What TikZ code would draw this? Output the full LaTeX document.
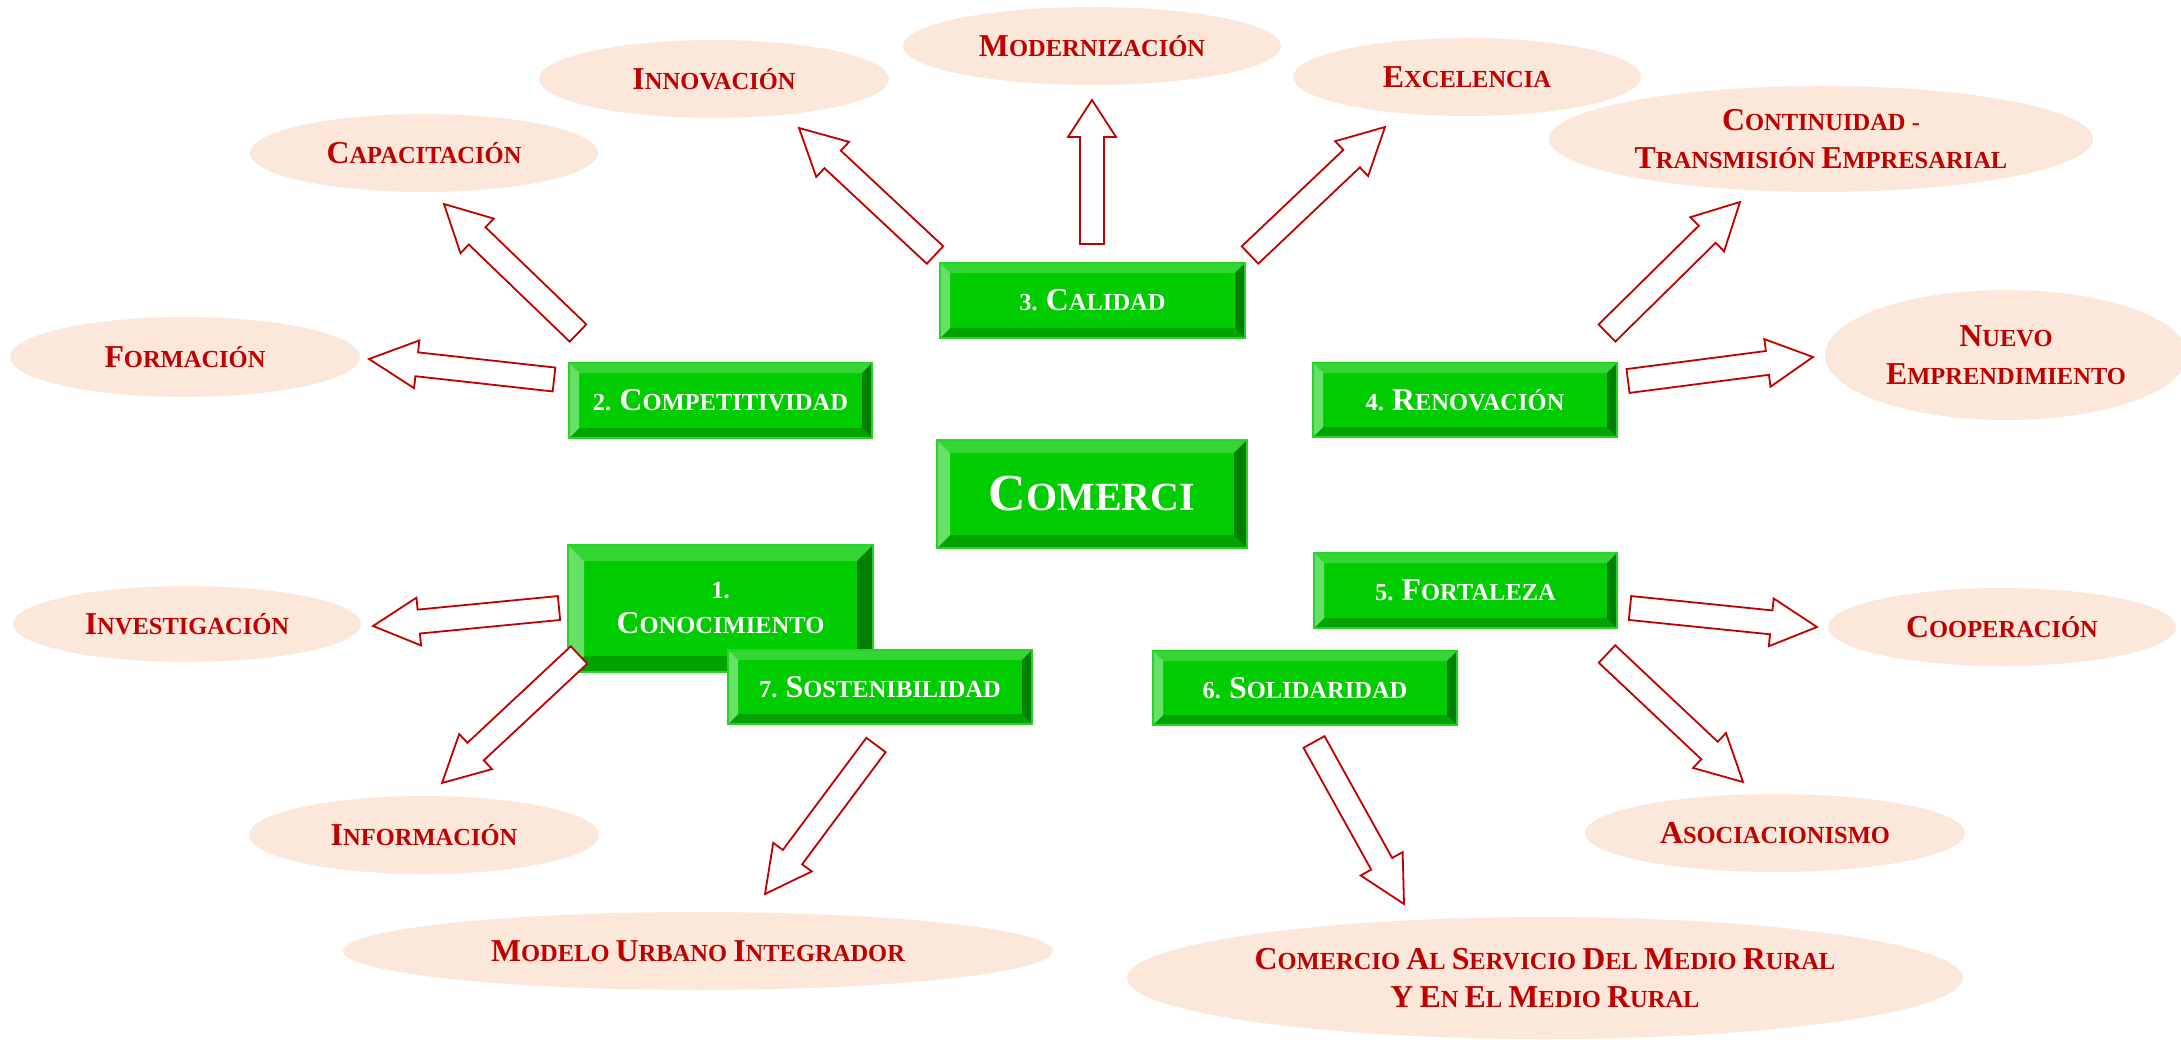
\documentclass[tikz,border=0pt]{standalone}
\usepackage{fontspec}
\setmainfont{Liberation Serif}
\usepackage{graphicx}
\usetikzlibrary{shapes.geometric,calc}

\definecolor{face}{RGB}{0,204,0}
\definecolor{bvtop}{RGB}{51,214,51}
\definecolor{bvleft}{RGB}{102,224,102}
\definecolor{bvbot}{RGB}{0,163,0}
\definecolor{bvright}{RGB}{0,128,0}
\definecolor{gedge}{RGB}{40,210,40}
\definecolor{peach}{RGB}{252,232,218}
\definecolor{wine}{RGB}{192,0,0}

% enlarged initial letter for hand-made small capitals
\newcommand\Ini[1]{\scalebox{1.3}{#1}}

% bevelled frame around a rectangular node: #1 node name, #2 bevel depth
\newcommand\bevel[2]{%
  \fill[bvtop] (#1.north west) -- (#1.north east) -- ($(#1.north east)+(-#2,-#2)$) -- ($(#1.north west)+(#2,-#2)$) -- cycle;
  \fill[bvbot] (#1.south west) -- (#1.south east) -- ($(#1.south east)+(-#2,#2)$) -- ($(#1.south west)+(#2,#2)$) -- cycle;
  \fill[bvleft] (#1.north west) -- (#1.south west) -- ($(#1.south west)+(#2,#2)$) -- ($(#1.north west)+(#2,-#2)$) -- cycle;
  \fill[bvright] (#1.north east) -- (#1.south east) -- ($(#1.south east)+(-#2,#2)$) -- ($(#1.north east)+(-#2,-#2)$) -- cycle;
  \draw[gedge, line width=1.5pt] (#1.north west) rectangle (#1.south east);
}

% hollow block arrow from tail #2 to tip #3, head length #1
\newcommand\blockarrow[3][46pt]{%
  \draw[barrow] ($(#2)!12pt!90:(#3)$)
    -- ($(#3)!#1!(#2)!12pt!-90:(#2)$)
    -- ($(#3)!#1!(#2)!24pt!-90:(#2)$)
    -- (#3)
    -- ($(#3)!#1!(#2)!24pt!90:(#2)$)
    -- ($(#3)!#1!(#2)!12pt!90:(#2)$)
    -- ($(#2)!12pt!-90:(#3)$) -- cycle;}

\begin{document}
\begin{tikzpicture}[x=1pt,y=-1pt,
  oval/.style={ellipse, fill=peach, inner sep=0pt, text=wine,
    font=\bfseries\fontsize{24.5}{38}\selectfont, align=center},
  gbox/.style={rectangle, fill=face, inner sep=0pt, outer sep=0pt, text=white,
    font=\bfseries\fontsize{24.5}{35}\selectfont, align=center},
  barrow/.style={draw=wine, line width=1.8pt, fill=white, line join=miter}]

\useasboundingbox (0,0) rectangle (2181,1040);

% outcome ellipses
\node[oval, minimum width=348, minimum height=78] (capac) at (424,153) {\Ini{C}APACITACIÓN};
\node[oval, minimum width=350, minimum height=78] (innov) at (714,79) {\Ini{I}NNOVACIÓN};
\node[oval, minimum width=378, minimum height=78] (moder) at (1092,46) {\Ini{M}ODERNIZACIÓN};
\node[oval, minimum width=348, minimum height=78] (excel) at (1467,77) {\Ini{E}XCELENCIA};
\node[oval, minimum width=544, minimum height=106] (conti) at (1821,139) {\Ini{C}ONTINUIDAD -\\\Ini{T}RANSMISIÓN \Ini{E}MPRESARIAL};
\node[oval, minimum width=362, minimum height=130] (nuevo) at (2006,355) {\Ini{N}UEVO\\\Ini{E}MPRENDIMIENTO};
\node[oval, minimum width=350, minimum height=80] (forma) at (185,357) {\Ini{F}ORMACIÓN};
\node[oval, minimum width=348, minimum height=76] (inves) at (187,624) {\Ini{I}NVESTIGACIÓN};
\node[oval, minimum width=348, minimum height=78] (coope) at (2002,627) {\Ini{C}OOPERACIÓN};
\node[oval, minimum width=350, minimum height=78] (infor) at (424,835) {\Ini{I}NFORMACIÓN};
\node[oval, minimum width=380, minimum height=78] (asoci) at (1775,833) {\Ini{A}SOCIACIONISMO};
\node[oval, minimum width=710, minimum height=78] (model) at (698,951) {\Ini{M}ODELO \Ini{U}RBANO \Ini{I}NTEGRADOR};
\node[oval, minimum width=836, minimum height=122] (rural) at (1545,978)
  {\Ini{C}OMERCIO \Ini{A}L \Ini{S}ERVICIO \Ini{D}EL \Ini{M}EDIO \Ini{R}URAL\\\Ini{Y} \Ini{E}N \Ini{E}L \Ini{M}EDIO \Ini{R}URAL};

% bevelled green boxes
\node[gbox, minimum width=310, minimum height=108, font=\bfseries\fontsize{40}{48}\selectfont] (comerci) at (1092,494) {\Ini{C}OMERCI};
\bevel{comerci}{13pt}
\node[gbox, minimum width=305, minimum height=75] (calidad) at (1092.5,300.5) {3. \Ini{C}ALIDAD};
\bevel{calidad}{10pt}
\node[gbox, minimum width=303, minimum height=75] (compet) at (720.5,400.5) {2. \Ini{C}OMPETITIVIDAD};
\bevel{compet}{10pt}
\node[gbox, minimum width=304, minimum height=74] (renov) at (1465,400) {4. \Ini{R}ENOVACIÓN};
\bevel{renov}{10pt}
\node[gbox, minimum width=303, minimum height=75] (fortal) at (1465.5,590.5) {5. \Ini{F}ORTALEZA};
\bevel{fortal}{10pt}
\node[gbox, minimum width=304, minimum height=74] (solid) at (1305,688) {6. \Ini{S}OLIDARIDAD};
\bevel{solid}{10pt}
\node[gbox, minimum width=305, minimum height=127] (conoc) at (720.5,608.5) {1.\\\Ini{C}ONOCIMIENTO};
\bevel{conoc}{16pt}
\node[gbox, minimum width=304, minimum height=74] (sosten) at (880,687) {7. \Ini{S}OSTENIBILIDAD};
\bevel{sosten}{10pt}

% arrow ends
\coordinate (t-forma) at (554,379.5);  \coordinate (h-forma) at (369,359);
\coordinate (t-capac) at (578,333);    \coordinate (h-capac) at (444,204);
\coordinate (t-innov) at (935,255);    \coordinate (h-innov) at (799,128);
\coordinate (t-moder) at (1092,244);   \coordinate (h-moder) at (1092,100);
\coordinate (t-excel) at (1250,255);   \coordinate (h-excel) at (1385,127);
\coordinate (t-conti) at (1607,333);   \coordinate (h-conti) at (1740,202);
\coordinate (t-nuevo) at (1628,381);   \coordinate (h-nuevo) at (1813,357);
\coordinate (t-inves) at (559,608);    \coordinate (h-inves) at (373,626);
\coordinate (t-infor) at (579,655);    \coordinate (h-infor) at (442,783);
\coordinate (t-model) at (876,745);    \coordinate (h-model) at (765,894);
\coordinate (t-rural) at (1314,742);   \coordinate (h-rural) at (1404,904);
\coordinate (t-coope) at (1630,608);   \coordinate (h-coope) at (1817,627);
\coordinate (t-asoci) at (1607,654);   \coordinate (h-asoci) at (1743,782);

% hollow arrows
\blockarrow[48pt]{t-forma}{h-forma}
\blockarrow{t-capac}{h-capac}
\blockarrow{t-innov}{h-innov}
\blockarrow[37pt]{t-moder}{h-moder}
\blockarrow{t-excel}{h-excel}
\blockarrow{t-conti}{h-conti}
\blockarrow{t-nuevo}{h-nuevo}
\blockarrow{t-inves}{h-inves}
\blockarrow{t-infor}{h-infor}
\blockarrow{t-model}{h-model}
\blockarrow{t-rural}{h-rural}
\blockarrow{t-coope}{h-coope}
\blockarrow{t-asoci}{h-asoci}

\end{tikzpicture}
\end{document}
